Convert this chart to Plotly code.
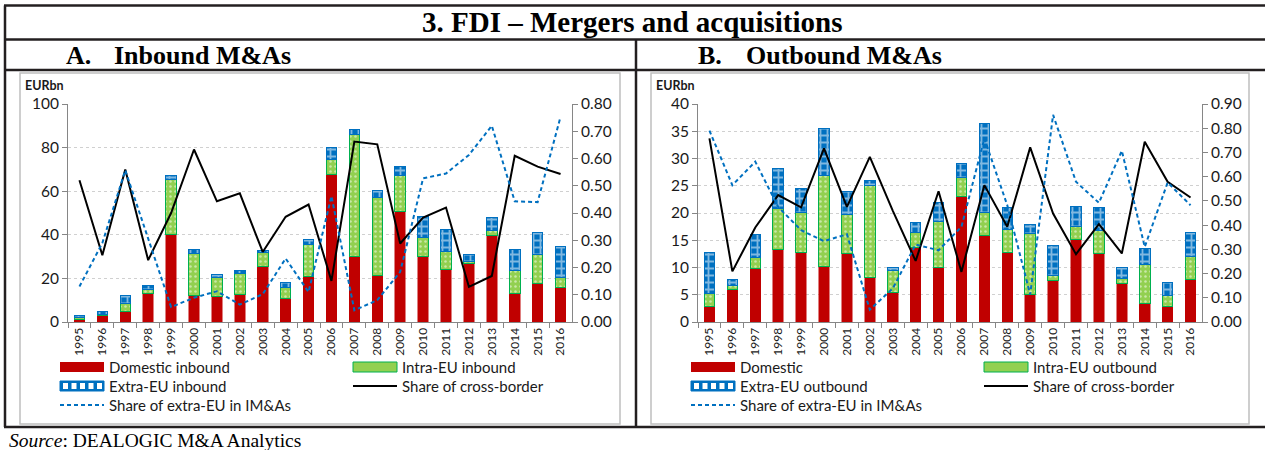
import plotly.graph_objects as go

# ---- data -------------------------------------------------------------
years = ["1995", "1996", "1997", "1998", "1999", "2000", "2001", "2002",
         "2003", "2004", "2005", "2006", "2007", "2008", "2009", "2010",
         "2011", "2012", "2013", "2014", "2015", "2016"]

# A. Inbound M&As (EUR bn, shares on the right axis)
in_domestic = [1.0, 3.2, 5.0, 12.9, 40.0, 12.2, 11.8, 12.4, 25.3, 11.0, 21.1,
               67.8, 29.9, 21.3, 50.8, 29.9, 24.3, 26.8, 39.7, 13.0, 17.6, 15.9]
in_intra = [1.0, 0.3, 3.4, 2.1, 25.5, 19.2, 8.6, 10.0, 6.4, 4.8, 14.4,
            6.8, 56.2, 35.7, 16.6, 9.0, 8.0, 0.9, 2.3, 10.7, 13.2, 4.3]
in_extra = [0.9, 1.2, 3.8, 1.7, 1.9, 1.8, 1.3, 1.3, 1.1, 2.3, 2.2,
            5.5, 2.3, 3.5, 3.8, 9.6, 10.1, 3.2, 5.9, 9.4, 10.2, 14.3]
in_share_cb = [0.52, 0.245, 0.56, 0.227, 0.40, 0.633, 0.443, 0.472, 0.257, 0.386, 0.431,
               0.151, 0.662, 0.652, 0.288, 0.383, 0.42, 0.129, 0.169, 0.61, 0.57, 0.543]
in_share_extra = [0.13, 0.29, 0.557, 0.31, 0.055, 0.089, 0.113, 0.064, 0.102, 0.233, 0.11,
                  0.462, 0.043, 0.08, 0.184, 0.527, 0.545, 0.613, 0.72, 0.443, 0.44, 0.753]

# B. Outbound M&As
out_domestic = [2.9, 6.0, 9.8, 13.3, 12.8, 10.1, 12.5, 8.1, 5.5, 13.6, 10.0,
                23.0, 15.9, 12.7, 5.0, 7.6, 15.2, 12.5, 7.1, 3.4, 2.9, 7.8]
out_intra = [2.3, 0.7, 2.1, 7.5, 7.3, 16.8, 7.3, 16.9, 3.9, 2.9, 8.4,
             3.5, 4.2, 4.3, 11.2, 0.9, 2.4, 4.2, 0.8, 7.1, 1.9, 4.3]
out_extra = [7.5, 1.1, 4.2, 7.3, 4.4, 8.6, 4.2, 1.0, 0.6, 1.7, 3.6,
             2.5, 16.3, 4.0, 1.7, 5.5, 3.6, 4.3, 2.1, 3.0, 2.4, 4.3]
out_share_cb = [0.758, 0.209, 0.39, 0.524, 0.473, 0.717, 0.475, 0.682, 0.46, 0.252, 0.54,
                0.207, 0.565, 0.393, 0.721, 0.448, 0.28, 0.404, 0.283, 0.744, 0.579, 0.514]
out_share_extra = [0.79, 0.565, 0.662, 0.475, 0.379, 0.334, 0.362, 0.051, 0.138, 0.32, 0.296,
                   0.393, 0.758, 0.482, 0.114, 0.855, 0.579, 0.492, 0.707, 0.31, 0.576, 0.482]

in_labels = ["Domestic inbound", "Intra-EU inbound", "Extra-EU inbound",
             "Share of cross-border", "Share of extra-EU in IM&As"]
out_labels = ["Domestic", "Intra-EU outbound", "Extra-EU outbound",
              "Share of cross-border", "Share of extra-EU in IM&As"]

# ---- styling ----------------------------------------------------------
W, H = 1265, 450
RED, GREEN, GREEN_EDGE, BLUE = "#C00000", "#92D050", "#00B050", "#0070C0"
AXIS_GREY = "#868686"
SANS = "Lato"
SERIF = "Liberation Serif"
TEXT = "#1a1a1a"


def px(x):
    return x / W


def py(y):
    return 1 - y / H


fig = go.Figure()


def add_panel(xa, ya_bar, ya_line, dom, intra, extra, share_cb, share_extra):
    fig.add_trace(go.Bar(x=years, y=dom, xaxis=xa, yaxis=ya_bar,
                         marker=dict(color=RED, line=dict(color=RED, width=0.5))))
    fig.add_trace(go.Bar(x=years, y=intra, xaxis=xa, yaxis=ya_bar,
                         marker=dict(color=GREEN, line=dict(color=GREEN_EDGE, width=1),
                                     pattern=dict(shape=".", bgcolor=GREEN, fgcolor="white",
                                                  size=5, solidity=0.2))))
    fig.add_trace(go.Bar(x=years, y=extra, xaxis=xa, yaxis=ya_bar,
                         marker=dict(color=BLUE, line=dict(color=BLUE, width=1),
                                     pattern=dict(shape="+", bgcolor=BLUE, fgcolor="white",
                                                  size=7, solidity=0.45))))
    fig.add_trace(go.Scatter(x=years, y=share_cb, xaxis=xa, yaxis=ya_line, mode="lines",
                             line=dict(color="black", width=2)))
    fig.add_trace(go.Scatter(x=years, y=share_extra, xaxis=xa, yaxis=ya_line, mode="lines",
                             line=dict(color=BLUE, width=2, dash="4px,3px")))


add_panel("x", "y", "y2", in_domestic, in_intra, in_extra, in_share_cb, in_share_extra)
add_panel("x2", "y3", "y4", out_domestic, out_intra, out_extra, out_share_cb, out_share_extra)

ydom = [py(322), py(104)]
tickfont = dict(family=SANS, size=15.5, color=TEXT)
xcommon = dict(type="category", tickangle=-90, tickfont=dict(family=SANS, size=12, color=TEXT),
               showline=True, linecolor=AXIS_GREY, linewidth=1, ticks="outside",
               tickson="boundaries", ticklen=5, tickcolor=AXIS_GREY, showgrid=False,
               automargin=False)
ycommon = dict(showline=True, linecolor=AXIS_GREY, linewidth=1, ticks="outside", ticklen=5,
               tickcolor=AXIS_GREY, tickfont=tickfont, zeroline=False, domain=ydom,
               automargin=False)
grid = dict(showgrid=True, gridcolor="#D0D0D0", gridwidth=1, griddash="dot")

fig.update_layout(
    width=W, height=H, autosize=False,
    margin=dict(l=0, r=0, t=0, b=0),
    paper_bgcolor="white", plot_bgcolor="white",
    barmode="stack", bargap=0.54, showlegend=False,
    xaxis=dict(domain=[px(68), px(572)], anchor="y", **xcommon),
    yaxis=dict(range=[0, 100], dtick=20, anchor="x", **grid, **ycommon),
    yaxis2=dict(range=[0, 0.8], dtick=0.1, tickformat=".2f", overlaying="y", side="right",
                anchor="x", showgrid=False, **ycommon),
    xaxis2=dict(domain=[px(698), px(1202)], anchor="y3", **xcommon),
    yaxis3=dict(range=[0, 40], dtick=5, anchor="x2", **grid, **ycommon),
    yaxis4=dict(range=[0, 0.9], dtick=0.1, tickformat=".2f", overlaying="y3", side="right",
                anchor="x2", showgrid=False, **ycommon),
)

# ---- frame lines and chart boxes ----------------------------------------
FRAME = "#231F20"
shapes = []
for yl in (5.5, 39.5, 70, 427):
    shapes.append(dict(type="line", xref="paper", yref="paper", x0=px(4), x1=1,
                       y0=py(yl), y1=py(yl), line=dict(color=FRAME, width=2.5)))
shapes.append(dict(type="line", xref="paper", yref="paper", x0=px(5), x1=px(5),
                   y0=py(5.5), y1=py(427), line=dict(color=FRAME, width=2.5)))
shapes.append(dict(type="line", xref="paper", yref="paper", x0=px(636), x1=px(636),
                   y0=py(39.5), y1=py(427), line=dict(color=FRAME, width=2.5)))
for bx0, bx1 in ((20, 620), (651, 1249)):
    shapes.append(dict(type="rect", xref="paper", yref="paper", x0=px(bx0), x1=px(bx1),
                       y0=py(424), y1=py(73), line=dict(color="#BFBFBF", width=1.5)))

annotations = []


def text(x, y, s, size, family=SANS, anchor="left", color=TEXT):
    annotations.append(dict(xref="paper", yref="paper", x=px(x), y=py(y), text=s,
                            showarrow=False, xanchor=anchor, yanchor="middle",
                            font=dict(family=family, size=size, color=color)))


# ---- legends drawn beneath each panel -----------------------------------
def legend(box_left, labels):
    rows = [367, 386, 405]
    cols = [box_left + 40, box_left + 333]
    slots = [(cols[0], rows[0]), (cols[1], rows[0]), (cols[0], rows[1]),
             (cols[1], rows[1]), (cols[0], rows[2])]
    kinds = ["red", "green", "blue", "black", "dash"]
    for (sx, sy), kind, lab in zip(slots, kinds, labels):
        x0, x1, y0, y1 = px(sx), px(sx + 44), py(sy + 5), py(sy - 5)
        if kind == "red":
            shapes.append(dict(type="rect", xref="paper", yref="paper", x0=x0, x1=x1,
                               y0=y0, y1=y1, fillcolor=RED, line=dict(width=0)))
        elif kind == "green":
            shapes.append(dict(type="rect", xref="paper", yref="paper", x0=x0, x1=x1,
                               y0=y0, y1=y1, fillcolor=GREEN,
                               line=dict(color=GREEN_EDGE, width=1)))
        elif kind == "blue":
            shapes.append(dict(type="rect", xref="paper", yref="paper", x0=x0, x1=x1,
                               y0=y0, y1=y1, fillcolor=BLUE, line=dict(color=BLUE, width=1)))
            for k in range(5):
                cx = sx + 3 + k * 8.5
                shapes.append(dict(type="rect", xref="paper", yref="paper",
                                   x0=px(cx), x1=px(cx + 5), y0=py(sy + 3), y1=py(sy - 3),
                                   fillcolor="white", line=dict(width=0)))
        elif kind == "black":
            shapes.append(dict(type="line", xref="paper", yref="paper", x0=x0, x1=x1,
                               y0=py(sy), y1=py(sy), line=dict(color="black", width=2)))
        else:
            shapes.append(dict(type="line", xref="paper", yref="paper", x0=x0, x1=x1,
                               y0=py(sy), y1=py(sy),
                               line=dict(color=BLUE, width=2, dash="4px,3px")))
        text(sx + 47, sy, lab, 15)


legend(20, in_labels)
legend(651, out_labels)

# ---- titles ---------------------------------------------------------------
text(632, 22, "<b>3. FDI – Mergers and acquisitions</b>", 29, family=SERIF, anchor="center",
     color="black")
text(64, 55, "<b>A.</b>", 26, family=SERIF, color="black")
text(112, 55, "<b>Inbound M&As</b>", 26, family=SERIF, color="black")
text(696, 55, "<b>B.</b>", 26, family=SERIF, color="black")
text(744, 55, "<b>Outbound M&As</b>", 26, family=SERIF, color="black")
text(23, 85.5, "<b>EURbn</b>", 12.5)
text(654, 85.5, "<b>EURbn</b>", 12.5)
text(7, 440, "<i>Source</i>: DEALOGIC M&A Analytics", 19.5, family=SERIF, color="black")

fig.update_layout(shapes=shapes, annotations=annotations)
fig.write_html("out.html")
